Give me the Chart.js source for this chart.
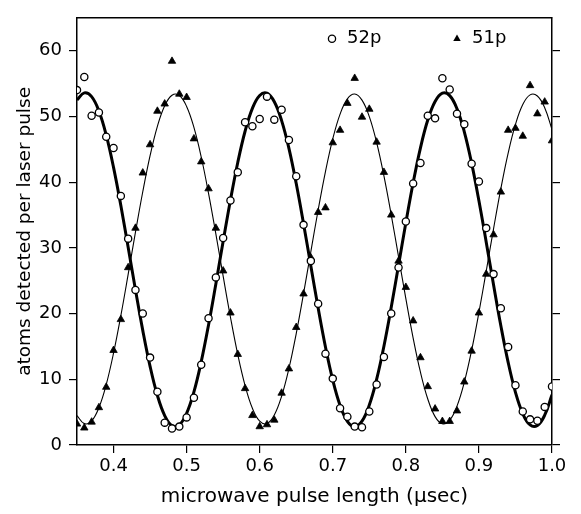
<!DOCTYPE html>
<html><head><meta charset="utf-8">
<script src="https://cdn.jsdelivr.net/npm/chart.js@4.4.1/dist/chart.umd.min.js"></script>
<style>html,body{margin:0;padding:0;background:#fff;}#c{display:block;}</style>
</head><body>
<canvas id="c" width="581" height="514"></canvas>
<script>
const pulseLength = [0.35,0.36,0.37,0.38,0.39,0.40,0.41,0.42,0.43,0.44,0.45,0.46,0.47,0.48,0.49,0.50,0.51,0.52,0.53,0.54,0.55,0.56,0.57,0.58,0.59,0.60,0.61,0.62,0.63,0.64,0.65,0.66,0.67,0.68,0.69,0.70,0.71,0.72,0.73,0.74,0.75,0.76,0.77,0.78,0.79,0.80,0.81,0.82,0.83,0.84,0.85,0.86,0.87,0.88,0.89,0.90,0.91,0.92,0.93,0.94,0.95,0.96,0.97,0.98,0.99,1.00];
const atoms52 = [54.0,56.0,50.1,50.6,46.9,45.2,37.9,31.4,23.6,20.0,13.3,8.1,3.4,2.5,2.8,4.2,7.2,12.2,19.3,25.5,31.5,37.2,41.5,49.1,48.5,49.6,53.0,49.5,51.0,46.4,40.9,33.5,28.0,21.5,13.9,10.1,5.6,4.3,2.8,2.7,5.1,9.2,13.4,20.0,27.0,34.0,39.8,42.9,50.1,49.7,55.8,54.1,50.4,48.8,42.8,40.1,33.0,26.0,20.8,14.9,9.1,5.1,3.9,3.7,5.8,8.9];
const atoms51 = [3.2,2.6,3.5,5.7,8.8,14.4,19.1,27.0,33.0,41.4,45.7,50.8,51.9,58.4,53.4,52.9,46.6,43.1,39.0,33.0,26.5,20.1,13.8,8.6,4.5,2.8,3.1,3.8,7.9,11.6,17.9,23.0,28.5,35.4,36.1,46.0,47.9,52.0,55.8,49.9,51.1,46.1,41.5,35.0,28.0,24.0,18.9,13.3,8.9,5.5,3.6,3.6,5.2,9.6,14.3,20.1,26.0,32.0,38.5,47.9,48.2,47.0,54.7,50.4,52.2,46.3];
const fit52 = [52.51,53.58,53.00,50.81,47.14,42.24,36.43,30.08,23.61,17.44,11.97,7.55,4.48,2.95,3.07,4.82,8.09,12.68,18.27,24.51,30.99,37.29,42.99,47.74,51.21,53.18,53.53,52.23,49.36,45.13,39.78,33.68,27.23,20.83,14.92,9.88,6.02,3.61,2.80,3.64,6.08,9.97,15.03,20.96,27.36,33.81,39.89,45.22,49.44,52.27,53.54,53.16,51.15,47.65,42.88,37.16,30.86,24.38,18.15,12.57,8.02,4.77,3.05,2.97,4.53,7.63];
const fit51 = [4.48,3.25,3.66,5.69,9.20,13.98,19.68,25.95,32.38,38.53,44.02,48.48,51.61,53.21,53.18,51.51,48.32,43.82,38.30,32.12,25.69,19.44,13.76,9.04,5.58,3.62,3.27,4.57,7.42,11.64,16.96,23.02,29.43,35.76,41.61,46.58,50.35,52.67,53.40,52.47,49.97,46.04,40.94,35.02,28.65,22.26,16.27,11.07,7.00,4.32,3.22,3.77,5.92,9.55,14.40,20.17,26.47,32.89,39.01,44.42,48.78,51.80,53.27,53.10,51.31,48.01];
const xTickValues = [0.4,0.5,0.6,0.7,0.8,0.9,1.0];
const xTickLabels = ['0.4','0.5','0.6','0.7','0.8','0.9','1.0'];
const yTickValues = [0,10,20,30,40,50,60];
const yTickLabels = ['0','10','20','30','40','50','60'];
const seriesNames = ['52p','51p'];
const xTitle = 'microwave pulse length (\u03bcsec)';
const yTitle = 'atoms detected per laser pulse';

const FAMILY = "'DejaVu Sans', sans-serif";
const pts = ys => pulseLength.map((x, i) => ({x: x, y: ys[i]}));

const insideLegend = {
  id: 'insideLegend',
  afterDraw(chart) {
    const ctx = chart.ctx, ca = chart.chartArea;
    const y = ca.top + 21;
    const items = [
      {label: seriesNames[0], style: 'circle', mx: ca.right - 220},
      {label: seriesNames[1], style: 'triangle', mx: ca.right - 95}
    ];
    ctx.save();
    ctx.font = "18px " + FAMILY;
    ctx.textBaseline = 'middle';
    ctx.fillStyle = '#000';
    ctx.strokeStyle = '#000';
    items.forEach(it => {
      ctx.beginPath();
      if (it.style === 'circle') {
        ctx.lineWidth = 1.3;
        ctx.arc(it.mx, y, 3.6, 0, Math.PI * 2);
        ctx.fillStyle = '#fff'; ctx.fill(); ctx.stroke();
      } else {
        const r = 4.3;
        ctx.moveTo(it.mx, y - r);
        ctx.lineTo(it.mx + r * Math.sin(2 * Math.PI / 3), y - r * Math.cos(2 * Math.PI / 3));
        ctx.lineTo(it.mx + r * Math.sin(4 * Math.PI / 3), y - r * Math.cos(4 * Math.PI / 3));
        ctx.closePath();
        ctx.fillStyle = '#000'; ctx.fill();
      }
      ctx.fillStyle = '#000';
      ctx.textAlign = 'left';
      ctx.fillText(it.label, it.mx + 15, y);
    });
    ctx.restore();
  }
};

const tickGrid = len => ({display: true, drawOnChartArea: false, drawTicks: len > 0, tickLength: len, color: '#000', lineWidth: 1.2});
const border = {display: true, color: '#000', width: 1.5};

new Chart(document.getElementById('c'), {
  type: 'scatter',
  data: {
    datasets: [
      {label: seriesNames[0], type: 'scatter', data: pts(atoms52), pointStyle: 'circle', pointRadius: 3.6, pointBorderWidth: 1.3, borderColor: '#000', backgroundColor: '#fff', order: 0, clip: 0},
      {label: seriesNames[1], type: 'scatter', data: pts(atoms51), pointStyle: 'triangle', pointRadius: 4.3, pointBorderWidth: 0.8, borderColor: '#000', backgroundColor: '#000', order: 0, clip: 0},
      {label: 'fit ' + seriesNames[0], type: 'line', data: pts(fit52), borderColor: '#000', borderWidth: 3, pointRadius: 0, tension: 0.4, fill: false, order: 1},
      {label: 'fit ' + seriesNames[1], type: 'line', data: pts(fit51), borderColor: '#000', borderWidth: 1.1, pointRadius: 0, tension: 0.4, fill: false, order: 1}
    ]
  },
  options: {
    responsive: false,
    devicePixelRatio: 1,
    animation: false,
    events: [],
    layout: {padding: 0},
    plugins: {legend: {display: false}, tooltip: {enabled: false}},
    scales: {
      x: {
        type: 'linear', position: 'bottom', min: 0.35, max: 1.0,
        afterBuildTicks: s => { s.ticks = xTickValues.map(v => ({value: v})); },
        afterFit: s => { s.height = 69; },
        ticks: {callback: (v, i) => xTickLabels[i], font: {family: FAMILY, size: 18}, color: '#000', padding: 3, maxRotation: 0, autoSkip: false},
        grid: tickGrid(8),
        border: border,
        title: {display: true, text: xTitle, font: {family: FAMILY, size: 20}, color: '#000', padding: {top: 0, bottom: 5}}
      },
      xTop: {
        type: 'linear', position: 'top', min: 0.35, max: 1.0,
        afterFit: s => { s.height = 4; },
        ticks: {display: false},
        grid: tickGrid(0),
        border: border
      },
      y: {
        type: 'linear', position: 'left', min: 0, max: 65,
        afterBuildTicks: s => { s.ticks = yTickValues.map(v => ({value: v})); },
        afterFit: s => { s.width = 77; },
        ticks: {callback: (v, i) => yTickLabels[i], font: {family: FAMILY, size: 18}, color: '#000', padding: 7},
        grid: tickGrid(8),
        border: border,
        title: {display: true, text: yTitle, font: {family: FAMILY, size: 18.5}, color: '#000', padding: {top: 14, bottom: 0}}
      },
      yRight: {
        type: 'linear', position: 'right', min: 0, max: 65,
        afterBuildTicks: s => { s.ticks = yTickValues.map(v => ({value: v})); },
        afterFit: s => { s.width = 29; },
        ticks: {display: false},
        grid: tickGrid(8),
        border: border
      }
    }
  },
  plugins: [insideLegend]
});
</script>
</body></html>
